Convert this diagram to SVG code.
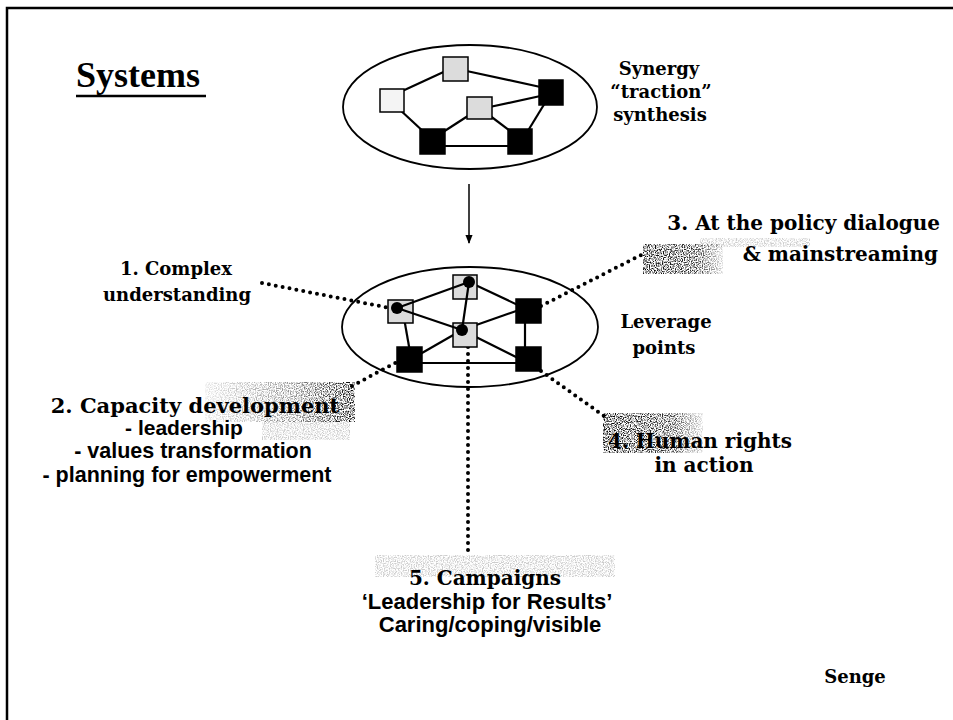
<svg xmlns="http://www.w3.org/2000/svg" width="953" height="720" viewBox="0 0 953 720">
<style>
.lbl{font-family:"DejaVu Serif","Liberation Serif",serif;font-weight:bold;fill:#000}
.sub{font-family:"Liberation Sans",Arial,sans-serif;font-weight:bold;fill:#000}
.ttl{font-family:"Liberation Serif","Times New Roman",serif;font-weight:bold;font-size:36px;fill:#000}
.ell{fill:none;stroke:#000;stroke-width:1.8}
.edge{stroke:#000;stroke-width:2.2;fill:none}
.blk{fill:#000;stroke:#000;stroke-width:1.5}
.lt{fill:#dcdcdc;stroke:#000;stroke-width:1.5}
.wt{fill:#f4f4f4;stroke:#000;stroke-width:1.5}
.dot{fill:#000}
.dotted{stroke:#000;stroke-width:4;stroke-linecap:round;stroke-dasharray:0 7;fill:none}
.frame{stroke:#000;stroke-width:2.5;fill:none}
</style>
<defs>
<filter id="grain" x="0" y="0" width="100%" height="100%">
<feTurbulence type="fractalNoise" baseFrequency="0.85" numOctaves="1" seed="4" result="n"/>
<feColorMatrix in="n" type="matrix" values="0 0 0 0 0 0 0 0 0 0 0 0 0 0 0 -4 0 0 0 2.3" result="a"/>
<feComposite in="a" in2="SourceGraphic" operator="in"/>
</filter>
<linearGradient id="fadeR" x1="0" y1="0" x2="1" y2="0">
<stop offset="0" stop-color="#000" stop-opacity="0.1"/>
<stop offset="0.6" stop-color="#000" stop-opacity="0.45"/>
<stop offset="1" stop-color="#000" stop-opacity="1"/>
</linearGradient>
<linearGradient id="fadeL" x1="0" y1="0" x2="1" y2="0">
<stop offset="0" stop-color="#000" stop-opacity="1"/>
<stop offset="0.7" stop-color="#000" stop-opacity="0.8"/>
<stop offset="1" stop-color="#000" stop-opacity="0.15"/>
</linearGradient>
<marker id="arr" viewBox="0 0 10 10" refX="9" refY="5" markerWidth="9" markerHeight="9" markerUnits="userSpaceOnUse" orient="auto">
<path d="M0,1 L10,5 L0,9 z" fill="#000"/>
</marker>
</defs>
<rect width="953" height="720" fill="#fff"/>
<path class="frame" d="M7,720 L7,8 L953,8"/>
<g id="title">
<text class="ttl" x="76" y="87">Systems</text>
<line x1="76" y1="96" x2="206" y2="96" stroke="#000" stroke-width="2.5"/>
</g>
<g id="noise">
<rect x="643" y="244" width="80" height="30" fill="url(#fadeL)" filter="url(#grain)"/>
<rect x="700" y="238" width="110" height="9" fill="#000" fill-opacity="0.2" filter="url(#grain)"/>
<rect x="205" y="382" width="150" height="40" fill="url(#fadeR)" filter="url(#grain)"/>
<rect x="262" y="420" width="88" height="20" fill="#000" fill-opacity="0.2" filter="url(#grain)"/>
<rect x="603" y="413" width="100" height="40" fill="url(#fadeL)" filter="url(#grain)"/>
<rect x="375" y="555" width="240" height="22" fill="#000" fill-opacity="0.2" filter="url(#grain)"/>
</g>
<g id="connectors">
<line x1="469" y1="184" x2="469" y2="243" stroke="#000" stroke-width="1.5" marker-end="url(#arr)"/>
<line class="dotted" x1="262" y1="283" x2="390" y2="308"/>
<line class="dotted" x1="352" y1="386" x2="397" y2="362"/>
<line class="dotted" x1="541" y1="306" x2="645" y2="253"/>
<line class="dotted" x1="541" y1="371" x2="604" y2="416"/>
<line class="dotted" x1="468" y1="347" x2="468" y2="555"/>
</g>
<g id="synergy-system">
<ellipse class="ell" cx="470" cy="107" rx="127" ry="62"/>
<g class="edges">
<line class="edge" x1="450" y1="69" x2="398" y2="93"/>
<line class="edge" x1="462" y1="70" x2="545" y2="88"/>
<line class="edge" x1="398" y1="108" x2="426" y2="134"/>
<line class="edge" x1="440" y1="134" x2="474" y2="112"/>
<line class="edge" x1="485" y1="108" x2="545" y2="95"/>
<line class="edge" x1="485" y1="112" x2="514" y2="134"/>
<line class="edge" x1="548" y1="98" x2="526" y2="134"/>
<line class="edge" x1="440" y1="146" x2="514" y2="146"/>
</g>
<rect id="n-top-a" class="lt" x="443" y="57" width="25" height="24"/>
<rect id="n-top-b" class="wt" x="380" y="89" width="24" height="23"/>
<rect id="n-top-c" class="lt" x="467" y="97" width="25" height="22"/>
<rect id="n-top-d" class="blk" x="539" y="80" width="24" height="25"/>
<rect id="n-top-e" class="blk" x="420" y="129" width="25" height="25"/>
<rect id="n-top-f" class="blk" x="508" y="129" width="24" height="25"/>
</g>
<g id="synergy-label">
<text class="lbl" font-size="18" text-anchor="middle" x="659" y="75">Synergy</text>
<text class="lbl" font-size="18" text-anchor="middle" x="661" y="98">“traction”</text>
<text class="lbl" font-size="18" text-anchor="middle" x="660" y="121">synthesis</text>
</g>
<g id="leverage-system">
<ellipse class="ell" cx="470" cy="327" rx="128" ry="60"/>
<g class="edges">
<line class="edge" x1="469" y1="282" x2="522" y2="307"/>
<line class="edge" x1="462" y1="330" x2="522" y2="360"/>
<line class="edge" x1="462" y1="330" x2="522" y2="309"/>
<line class="edge" x1="462" y1="330" x2="415" y2="357"/>
<line class="edge" x1="404" y1="318" x2="410" y2="352"/>
<line class="edge" x1="525" y1="318" x2="525" y2="352"/>
<line class="edge" x1="415" y1="363" x2="522" y2="363"/>
</g>
<rect id="n-lev-p" class="lt" x="388" y="300" width="25" height="23"/>
<rect id="n-lev-q" class="lt" x="453" y="275" width="24" height="24"/>
<rect id="n-lev-r" class="lt" x="453" y="323" width="24" height="24"/>
<rect id="n-lev-s" class="blk" x="516" y="299" width="25" height="24"/>
<rect id="n-lev-t" class="blk" x="397" y="347" width="25" height="25"/>
<rect id="n-lev-u" class="blk" x="516" y="347" width="25" height="24"/>
<g class="edges">
<line class="edge" x1="397" y1="308" x2="469" y2="282"/>
<line class="edge" x1="397" y1="308" x2="462" y2="330"/>
<line class="edge" x1="469" y1="282" x2="462" y2="330"/>
</g>
<circle class="dot" cx="397" cy="308" r="6"/>
<circle class="dot" cx="469" cy="282" r="6"/>
<circle class="dot" cx="462" cy="330" r="6"/>
</g>
<g id="leverage-label">
<text class="lbl" font-size="18" text-anchor="middle" x="666" y="328">Leverage</text>
<text class="lbl" font-size="18" text-anchor="middle" x="664" y="354">points</text>
</g>
<g id="label-1">
<text class="lbl" font-size="18" text-anchor="middle" x="176" y="275">1. Complex</text>
<text class="lbl" font-size="18" text-anchor="middle" x="177" y="301">understanding</text>
</g>
<g id="label-2">
<text class="lbl" font-size="21" text-anchor="middle" x="195" y="413">2. Capacity development</text>
<text class="sub" font-size="21" text-anchor="middle" x="184" y="435">- leadership</text>
<text class="sub" font-size="21.5" text-anchor="middle" x="193" y="458">- values transformation</text>
<text class="sub" font-size="21.5" text-anchor="middle" x="187" y="482">- planning for empowerment</text>
</g>
<g id="label-3">
<text class="lbl" font-size="20" text-anchor="end" x="940" y="230">3. At the policy dialogue</text>
<text class="lbl" font-size="20" text-anchor="end" x="938" y="261">&amp; mainstreaming</text>
</g>
<g id="label-4">
<text class="lbl" font-size="20" text-anchor="middle" x="700" y="448">4. Human rights</text>
<text class="lbl" font-size="20" text-anchor="middle" x="704" y="472">in action</text>
</g>
<g id="label-5">
<text class="lbl" font-size="20" text-anchor="middle" x="485" y="585">5. Campaigns</text>
<text class="sub" font-size="22" text-anchor="middle" x="487" y="609">‘Leadership for Results’</text>
<text class="sub" font-size="22" text-anchor="middle" x="490" y="632">Caring/coping/visible</text>
</g>
<g id="source">
<text class="lbl" font-size="18" text-anchor="middle" x="855" y="683">Senge</text>
</g>
</svg>
